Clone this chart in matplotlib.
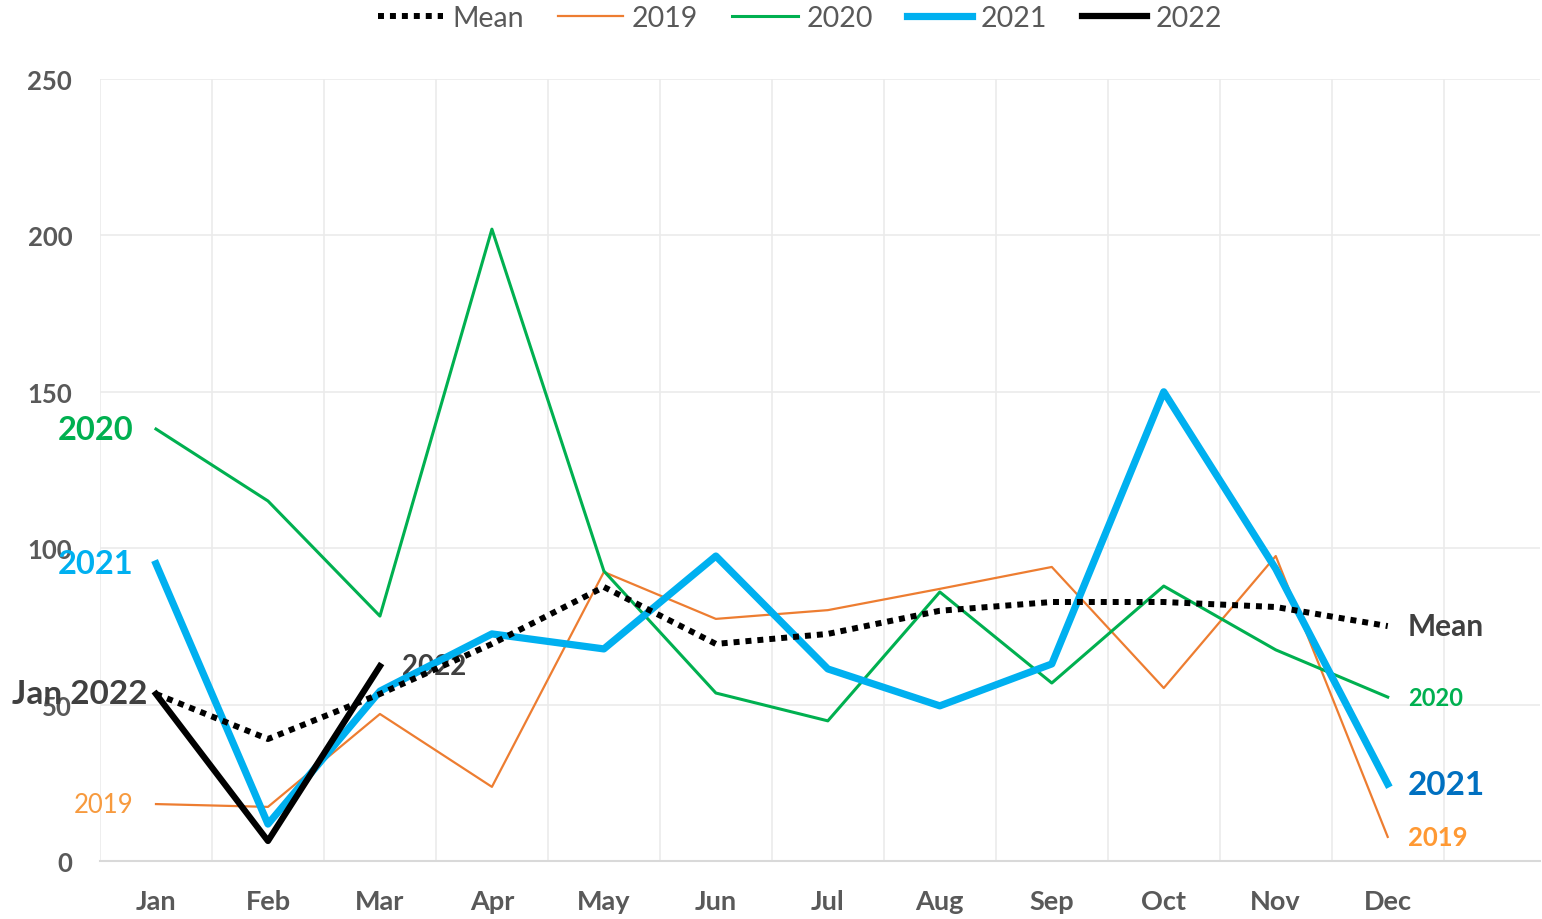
import matplotlib.pyplot as plt
import numpy as np

months = ['Jan', 'Feb', 'Mar', 'Apr', 'May', 'Jun', 'Jul', 'Aug', 'Sep', 'Oct', 'Nov', 'Dec']
mean = [53.4, 39.0, 53.4, 69.4, 87.6, 69.4, 72.6, 80.0, 82.8, 82.8, 81.2, 75.1]
y2019 = [18.2, 17.3, 47.0, 23.7, 92.4, 77.4, 80.2, 87.0, 94.0, 55.3, 97.5, 7.7]
y2020 = [138.1, 115.1, 78.3, 202.0, 92.7, 53.7, 44.8, 86.0, 56.9, 87.9, 67.5, 52.4]
y2021 = [95.0, 11.8, 54.3, 72.6, 67.8, 97.5, 61.4, 49.6, 63.0, 150.0, 93.4, 24.6]
y2022 = [53.4, 6.4, 62.3]
yticks = [0, 50, 100, 150, 200, 250]

plt.rcParams['font.family'] = ['Lato', 'DejaVu Sans']
gray = '#595959'
dark = '#404040'

fig = plt.figure(figsize=(15.42, 9.2), dpi=100)
ax = fig.add_axes([100 / 1542, 58 / 920, 1440 / 1542, 782 / 920])

x = np.arange(len(months))
ax.plot(x, y2019, color='#ED7D31', lw=1.6, zorder=3, label='2019')
ax.plot(x, y2020, color='#00B050', lw=2.2, zorder=4, label='2020')
ax.plot(x, y2021, color='#00B0F0', lw=5.2, zorder=5, label='2021')
ax.plot(x[:len(y2022)], y2022, color='black', lw=4.5, zorder=6, label='2022')
ax.plot(x, mean, color='black', lw=4.3, ls=(0, (1, 1)), zorder=7, label='Mean')

ax.set_xlim(-0.5, 12.36)
ax.set_ylim(0, 250)
ax.set_xticks(x)
ax.set_xticklabels(months)
ax.set_yticks(yticks)
ax.set_xticks(np.arange(-0.5, 12.5, 1), minor=True)
ax.tick_params(axis='both', which='both', length=0)
ax.tick_params(axis='x', which='major', pad=20, labelsize=19.5, labelcolor=gray)
ax.tick_params(axis='y', pad=20, labelsize=18.5, labelcolor=gray)
for lab in ax.get_xticklabels() + ax.get_yticklabels():
    lab.set_fontweight('bold')

ax.grid(axis='y', color='#EBEBEB', lw=1.2)
ax.grid(axis='x', which='minor', color='#EBEBEB', lw=1.2)
ax.grid(axis='x', which='major', visible=False)
for s in ['top', 'right', 'left']:
    ax.spines[s].set_visible(False)
ax.spines['bottom'].set_color('#D9D9D9')
ax.spines['bottom'].set_linewidth(1.5)
ax.set_axisbelow(True)

# legend in Mean, 2019 ... order
h, l = ax.get_legend_handles_labels()
order = [4, 0, 1, 2, 3]
leg = fig.legend([h[i] for i in order], [l[i] for i in order], loc='center',
                 bbox_to_anchor=(800 / 1542, 1 - 19 / 920), ncol=5, frameon=False,
                 fontsize=20.5, handlelength=2.3, columnspacing=1.2, handletextpad=0.3)
for t in leg.get_texts():
    t.set_color(gray)

# series labels
ax.text(-0.2, y2020[0], '2020', color='#00B050', fontsize=23.5, fontweight='bold', ha='right', va='center')
ax.text(-0.2, y2021[0], '2021', color='#00B0F0', fontsize=23.5, fontweight='bold', ha='right', va='center')
ax.text(-0.08, y2022[0], 'Jan 2022', color=dark, fontsize=24, fontweight='bold', ha='right', va='center')
ax.text(-0.2, y2019[0], '2019', color='#F79A3E', fontsize=18.5, ha='right', va='center')
ax.text(2.2, y2022[2], '2022', color=dark, fontsize=20, fontweight='bold', ha='left', va='center')

ax.text(11.18, mean[-1], 'Mean', color=dark, fontsize=21.5, fontweight='bold', ha='left', va='center')
ax.text(11.18, y2020[-1], '2020', color='#00B050', fontsize=17, fontweight='bold', ha='left', va='center')
ax.text(11.18, y2021[-1], '2021', color='#0070C0', fontsize=24, fontweight='bold', ha='left', va='center')
ax.text(11.18, y2019[-1], '2019', color='#FF9933', fontsize=18.5, fontweight='bold', ha='left', va='center')

fig.savefig('out.png', dpi=100)
